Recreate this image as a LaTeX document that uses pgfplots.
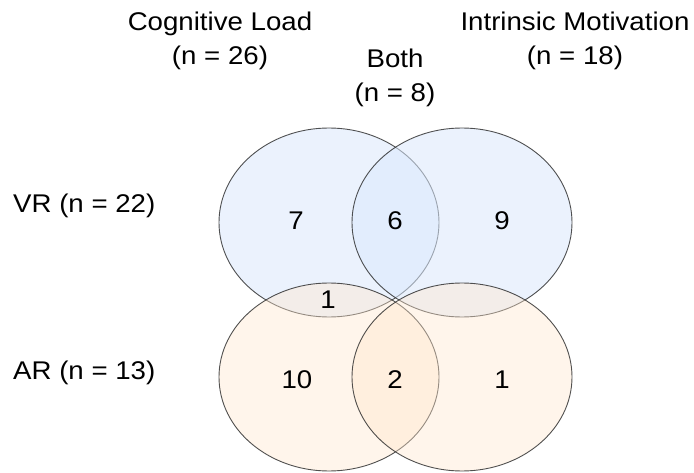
\documentclass[border=0pt]{standalone}
\usepackage{fontspec}
\setmainfont{Liberation Sans}[FakeStretch=1.08]
\usepackage{pgfplots}
\pgfplotsset{compat=1.18}
\definecolor{vrblue}{HTML}{DAE8FC}
\definecolor{arorange}{HTML}{FFE6CC}
\newcommand{\bigfont}{\fontsize{25.6}{30}\selectfont}
\tikzset{lbl/.style={inner sep=0pt, anchor=base, font=\bigfont}}
\begin{document}
\begin{tikzpicture}[font=\bigfont]
\begin{axis}[
  width=694pt, height=472pt, scale only axis,
  xmin=0, xmax=694, ymin=0, ymax=472,
  axis lines=none, clip=false,
]
% bounding box
\path (axis cs:0,0) rectangle (axis cs:694,472);
% ellipses (centre x, centre y, radius x, radius y)
\draw[fill=vrblue, fill opacity=0.55, draw=black!85, draw opacity=0.8, line width=0.9pt]
  (axis cs:329,249.5) ellipse [x radius=110, y radius=94.5];
\draw[fill=vrblue, fill opacity=0.55, draw=black!85, draw opacity=0.8, line width=0.9pt]
  (axis cs:462,249.5) ellipse [x radius=110, y radius=94.5];
\draw[fill=arorange, fill opacity=0.4, draw=black!85, draw opacity=0.8, line width=0.9pt]
  (axis cs:329,95) ellipse [x radius=110, y radius=94];
\draw[fill=arorange, fill opacity=0.4, draw=black!85, draw opacity=0.8, line width=0.9pt]
  (axis cs:462,95) ellipse [x radius=110, y radius=94];
% headings
\node[lbl] at (axis cs:220,441) {Cognitive Load};
\node[lbl] at (axis cs:220,407) {(n = 26)};
\node[lbl] at (axis cs:395,404) {Both};
\node[lbl] at (axis cs:395,370) {(n = 8)};
\node[lbl] at (axis cs:575,441) {Intrinsic Motivation};
\node[lbl] at (axis cs:575,407) {(n = 18)};
\node[lbl, anchor=base west] at (axis cs:13,259) {VR (n = 22)};
\node[lbl, anchor=base west] at (axis cs:13,93) {AR (n = 13)};
% counts
\node[lbl] at (axis cs:296,242) {7};
\node[lbl] at (axis cs:395,242) {6};
\node[lbl] at (axis cs:502,242) {9};
\node[lbl] at (axis cs:328,164) {1};
\node[lbl] at (axis cs:297,84) {10};
\node[lbl] at (axis cs:395,84) {2};
\node[lbl] at (axis cs:502,84) {1};
\end{axis}
\end{tikzpicture}
\end{document}
